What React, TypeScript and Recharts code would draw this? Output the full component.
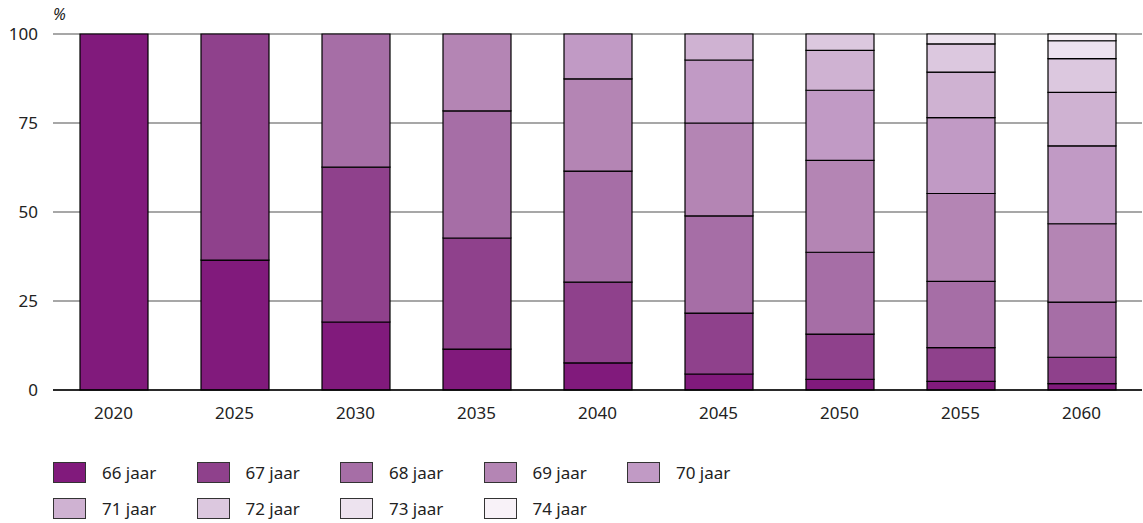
import React from 'react';
import { BarChart, Bar, XAxis, YAxis, CartesianGrid } from 'recharts';

const years = ['2020', '2025', '2030', '2035', '2040', '2045', '2050', '2055', '2060'];
const ages = ['66 jaar', '67 jaar', '68 jaar', '69 jaar', '70 jaar', '71 jaar', '72 jaar', '73 jaar', '74 jaar'];

// share per pension age, one array per age, index = year
const age66 = [100, 36.5, 19.1, 11.5, 7.6, 4.5, 3.0, 2.4, 1.8];
const age67 = [0, 63.5, 43.5, 31.2, 22.7, 17.1, 12.7, 9.5, 7.4];
const age68 = [0, 0, 37.4, 35.7, 31.2, 27.3, 23.0, 18.6, 15.5];
const age69 = [0, 0, 0, 21.6, 25.9, 26.1, 25.8, 24.7, 22.0];
const age70 = [0, 0, 0, 0, 12.6, 17.7, 19.7, 21.3, 21.9];
const age71 = [0, 0, 0, 0, 0, 7.3, 11.2, 12.8, 15.0];
const age72 = [0, 0, 0, 0, 0, 0, 4.6, 7.9, 9.5];
const age73 = [0, 0, 0, 0, 0, 0, 0, 2.8, 5.0];
const age74 = [0, 0, 0, 0, 0, 0, 0, 0, 1.9];

const yTicks = [0, 25, 50, 75, 100];

const series = [age66, age67, age68, age69, age70, age71, age72, age73, age74];
const colors = ['#811a7c', '#8f418c', '#a66ea6', '#b485b4', '#c19ac5', '#cfb2d2', '#dcc8df', '#ede3ef', '#f8f2f8'];

const data = years.map((year, i) => {
  const row: Record<string, string | number> = { year };
  series.forEach((s, k) => {
    row['a' + k] = s[i];
  });
  return row;
});

const font = '"Noto Sans", "Open Sans", sans-serif';

const App: React.FC = () => {
  return (
    <div style={{ position: 'absolute', left: 0, top: 0, width: 1143, height: 523, background: '#fff', fontFamily: font }}>
      <div style={{ position: 'absolute', left: 53, top: 3, fontSize: 16, fontStyle: 'italic', color: '#222' }}>%</div>
      <BarChart
        width={1143}
        height={425}
        data={data}
        margin={{ top: 34, right: 1, left: 1, bottom: 0 }}
        barSize={68}
      >
        <CartesianGrid vertical={false} stroke="#8a8a8a" strokeWidth={1.3} />
        <XAxis
          dataKey="year"
          axisLine={{ stroke: '#000', strokeWidth: 1.5 }}
          tickLine={false}
          tickSize={0}
          tickMargin={17}
          height={35}
          tick={{ fill: '#222', fontSize: 17, fontFamily: font }}
        />
        <YAxis
          width={52}
          domain={[0, 100]}
          ticks={yTicks}
          axisLine={false}
          tickLine={false}
          tickSize={0}
          tickMargin={15}
          tick={{ fill: '#222', fontSize: 17, fontFamily: font }}
        />
        {series.map((_, k) => (
          <Bar
            key={k}
            dataKey={'a' + k}
            stackId="s"
            fill={colors[k]}
            stroke="#000"
            strokeWidth={1.2}
            isAnimationActive={false}
          />
        ))}
      </BarChart>
      <div style={{ position: 'absolute', left: 53, top: 461, width: 1000 }}>
        {ages.map((label, k) => (
          <div
            key={label}
            style={{
              position: 'absolute',
              left: (k % 5) * 143.5,
              top: Math.floor(k / 5) * 36,
              display: 'flex',
              alignItems: 'center',
              height: 22,
            }}
          >
            <div style={{ width: 33, height: 21, background: colors[k], border: '1.5px solid #333', boxSizing: 'border-box' }} />
            <span style={{ marginLeft: 16, fontSize: 17, color: '#222' }}>{label}</span>
          </div>
        ))}
      </div>
    </div>
  );
};

export default App;
